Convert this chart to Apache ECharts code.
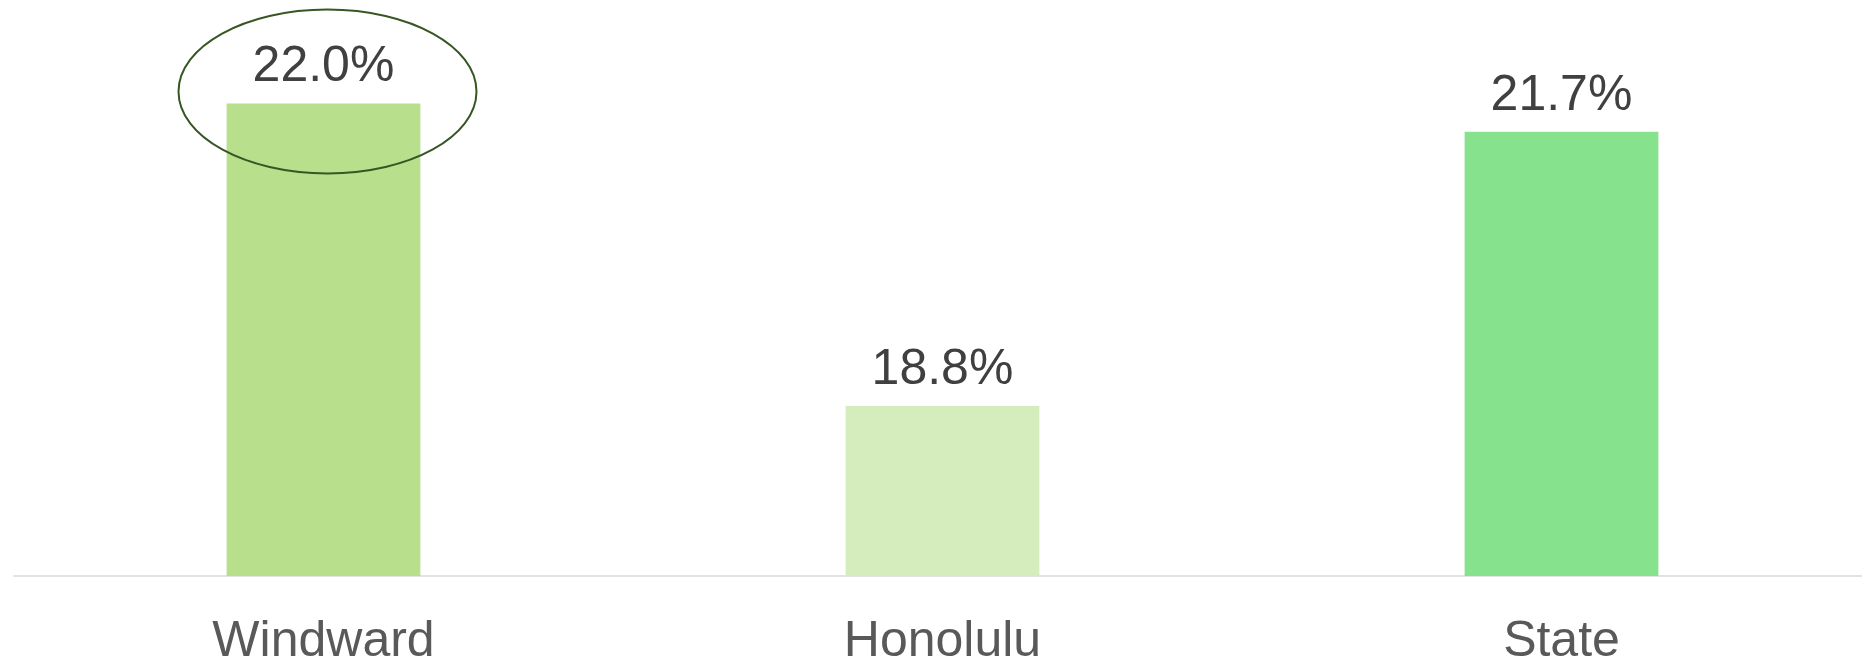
<!DOCTYPE html>
<html>
<head>
<meta charset="utf-8">
<script src="https://cdn.jsdelivr.net/npm/echarts@6/dist/echarts.min.js"></script>
<style>
  html, body { margin: 0; padding: 0; background: #fff; }
  #chart { width: 1862px; height: 662px; }
</style>
</head>
<body>
<div id="chart"></div>
<script>
const categories = ['Windward', 'Honolulu', 'State']
const values = [22.0, 18.8, 21.7]
const barColors = ['#B8E08C', '#D5ECBD', '#86E28C']
const highlightIndex = 0

const chart = echarts.init(document.getElementById('chart'))

const option = {
  animation: false,
  grid: {
    left: 14,
    right: -9,
    top: 9,
    bottom: 86,
    containLabel: false,
    outerBoundsMode: 'none'
  },
  xAxis: {
    type: 'category',
    data: categories,
    axisLine: { lineStyle: { color: '#D9D9D9', width: 1.5 } },
    axisTick: { show: false },
    axisLabel: {
      color: '#595959',
      fontFamily: 'Liberation Sans',
      fontSize: 50,
      margin: 41
    }
  },
  yAxis: {
    type: 'value',
    min: 17,
    max: 23,
    show: false,
    splitLine: { show: false }
  },
  series: [
    {
      type: 'bar',
      barWidth: '31.3%',
      data: values.map((v, i) => ({
        value: v,
        itemStyle: { color: barColors[i] }
      })),
      label: {
        show: true,
        position: 'top',
        distance: 11,
        color: '#404040',
        fontFamily: 'Liberation Sans',
        fontSize: 50,
        formatter: p => p.value.toFixed(1) + '%'
      }
    }
  ]
}

chart.setOption(option)

// ellipse callout around the highlighted bar's label
const pt = chart.convertToPixel({ seriesIndex: 0 }, [highlightIndex, values[highlightIndex]])
chart.setOption({
  graphic: [
    {
      type: 'ellipse',
      shape: { cx: pt[0] + 4, cy: pt[1] - 12, rx: 149, ry: 82 },
      style: { fill: 'none', stroke: '#375623', lineWidth: 2 },
      z: 100
    }
  ]
})
</script>
</body>
</html>
